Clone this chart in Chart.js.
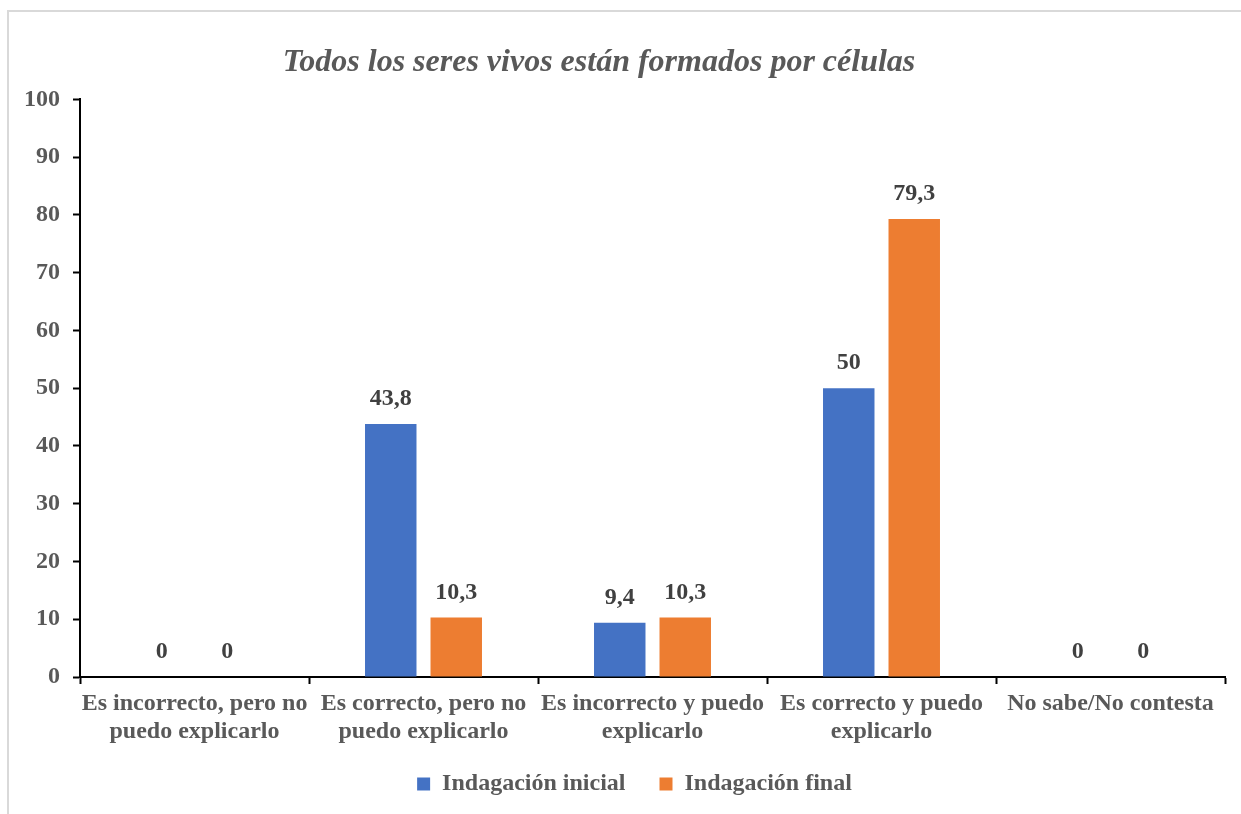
<!DOCTYPE html>
<html>
<head>
<meta charset="utf-8">
<script src="https://cdn.jsdelivr.net/npm/chart.js@4/dist/chart.umd.min.js"></script>
<style>
html,body{margin:0;padding:0;background:#fff;}
#wrap{position:absolute;left:0;top:0;width:1241px;height:814px;}
#frame{position:absolute;left:7px;top:10px;width:1234px;height:804px;border-left:2px solid #d9d9d9;border-top:2px solid #d9d9d9;box-sizing:border-box;pointer-events:none;}
canvas{position:absolute;left:0;top:0;}
</style>
</head>
<body>
<div id="wrap">
<canvas id="c" width="1241" height="814"></canvas>
<div id="frame"></div>
</div>
<script>
const chartTitle = 'Todos los seres vivos están formados por células';
const categories = [
  ['Es incorrecto, pero no', 'puedo explicarlo'],
  ['Es correcto, pero no', 'puedo explicarlo'],
  ['Es incorrecto y puedo', 'explicarlo'],
  ['Es correcto y puedo', 'explicarlo'],
  'No sabe/No contesta'
];
const seriesNames = ['Indagación inicial', 'Indagación final'];
const inicial = [0, 43.8, 9.4, 50, 0];
const final = [0, 10.3, 10.3, 79.3, 0];
const yTicks = [0, 10, 20, 30, 40, 50, 60, 70, 80, 90, 100];

const FONT = "'Liberation Serif', 'Times New Roman', serif";
const GRAY = '#595959';

const valueLabels = {
  id: 'valueLabels',
  afterDatasetsDraw(chart) {
    const ctx = chart.ctx;
    ctx.save();
    ctx.font = 'bold 24px ' + FONT;
    ctx.fillStyle = '#404040';
    ctx.textAlign = 'center';
    ctx.textBaseline = 'middle';
    chart.data.datasets.forEach((ds, i) => {
      const meta = chart.getDatasetMeta(i);
      meta.data.forEach((el, j) => {
        const v = ds.data[j];
        ctx.fillText(String(v).replace('.', ','), el.x, el.y - 25);
      });
    });
    ctx.restore();
  }
};

const shiftBoxes = {
  id: 'shiftBoxes',
  afterLayout(chart) {
    const lg = chart.legend;
    if (lg) { const d = 634.5 - (lg.left + lg.right) / 2; lg.left += d; lg.right += d; }
    const t = chart.titleBlock;
    if (t) { const d = 599 - (t.left + t.right) / 2; t.left += d; t.right += d; }
  }
};

new Chart(document.getElementById('c'), {
  type: 'bar',
  data: {
    labels: categories,
    datasets: [
      { label: seriesNames[0], data: inicial, backgroundColor: '#4472C4', categoryPercentage: 0.572, barPercentage: 0.786 },
      { label: seriesNames[1], data: final, backgroundColor: '#ED7D31', categoryPercentage: 0.572, barPercentage: 0.786 }
    ]
  },
  options: {
    responsive: false,
    animation: false,
    devicePixelRatio: 1,
    layout: { padding: { left: 0, right: 16, top: 0, bottom: 8 } },
    plugins: {
      title: {
        display: true,
        text: chartTitle,
        color: GRAY,
        font: { family: FONT, size: 32, style: 'italic', weight: 'bold' },
        padding: { top: 44, bottom: 17 }
      },
      legend: {
        display: true,
        position: 'bottom',
        labels: {
          color: GRAY,
          font: { family: FONT, size: 24, weight: 'bold' },
          boxWidth: 13,
          boxHeight: 13,
          padding: 10,
          generateLabels(chart) {
            const items = Chart.defaults.plugins.legend.labels.generateLabels(chart);
            items.forEach((it, i) => {
              it.lineWidth = 0;
              if (i === 0) it.text = it.text + '    ';
            });
            return items;
          }
        }
      },
      tooltip: { enabled: false }
    },
    scales: {
      x: {
        grid: { drawOnChartArea: false, drawTicks: true, tickLength: 7, tickColor: '#000', tickWidth: 2, offset: true },
        border: { display: true, color: '#000', width: 2 },
        ticks: { color: GRAY, font: { family: FONT, size: 24, weight: 'bold' }, maxRotation: 0, minRotation: 0, autoSkip: false, padding: 5 },
        afterFit(scale) { scale.height = 85; }
      },
      y: {
        min: yTicks[0],
        max: yTicks[yTicks.length - 1],
        afterBuildTicks(scale) { scale.ticks = yTicks.map(v => ({ value: v })); },
        grid: { drawOnChartArea: false, drawTicks: true, tickLength: 7, tickColor: '#000', tickWidth: 2 },
        border: { display: true, color: '#000', width: 2 },
        ticks: { color: GRAY, font: { family: FONT, size: 24, weight: 'bold' }, padding: 13 },
        afterFit(scale) { scale.width = 80; }
      }
    }
  },
  plugins: [valueLabels, shiftBoxes]
});
</script>
</body>
</html>
